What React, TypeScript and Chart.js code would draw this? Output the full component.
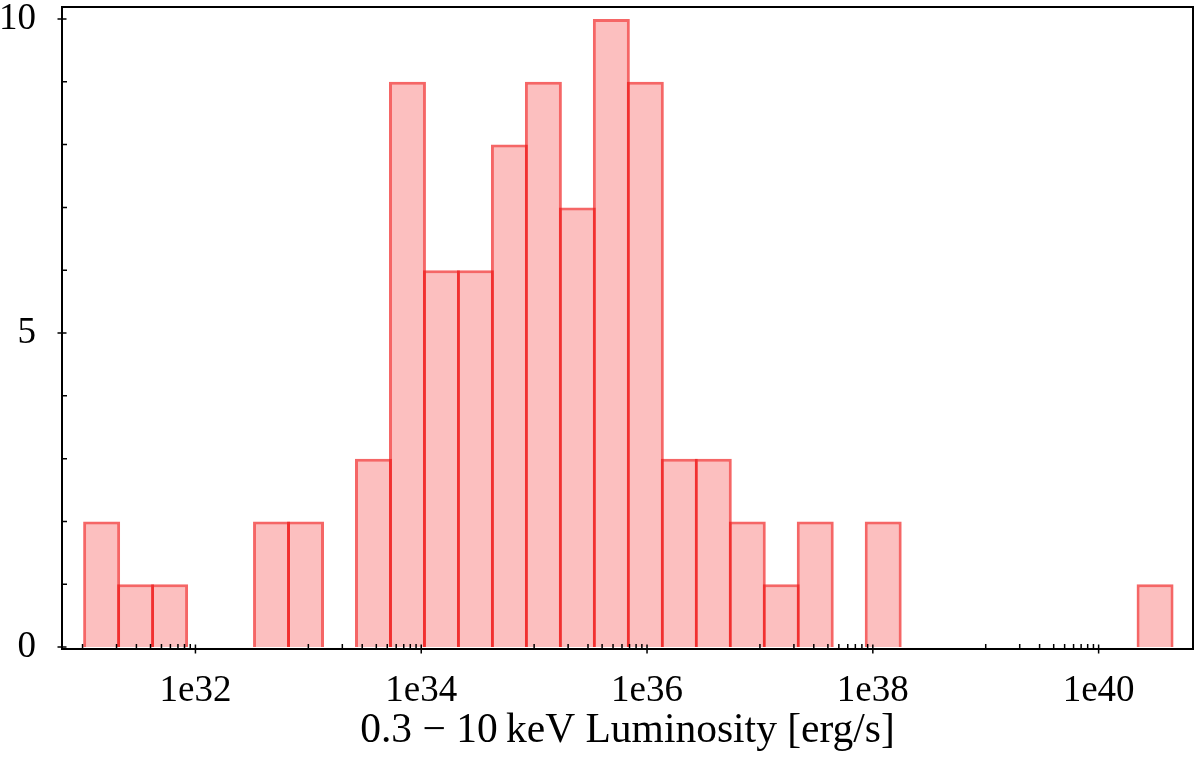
import { useEffect, useRef } from "react";
import { Chart, registerables } from "chart.js";

Chart.register(...registerables);

// log10 of bin centres (luminosity, erg/s)
const binCentersLog = [
  31.169, 31.470, 31.771, 32.072, 32.373, 32.674, 32.975, 33.276,
  33.577, 33.878, 34.179, 34.480, 34.781, 35.082, 35.383, 35.684,
  35.985, 36.286, 36.587, 36.888, 37.189, 37.490, 37.791, 38.092,
  38.393, 38.694, 38.995, 39.296, 39.597, 39.898, 40.199, 40.500,
];
const counts = [
  2, 1, 1, 0, 0, 2, 2, 0,
  3, 9, 6, 6, 8, 9, 7, 10,
  9, 3, 3, 2, 1, 2, 0, 2,
  0, 0, 0, 0, 0, 0, 0, 1,
];

const xMinLog = 30.818;
const xMaxLog = 40.836;
const xMajorExponents = [32, 34, 36, 38, 40];
const xMajorLabels = ["1e32", "1e34", "1e36", "1e38", "1e40"];
const xMinorExponents = [31, 33, 35, 37, 39];
const xMinorSubs = [1, 2, 3, 4, 5, 6, 7, 8, 9];

const yMin = -0.03;
const yMax = 10.19;
const yMajorTicks = [0, 5, 10];
const yMajorLabels = ["0", "5", "10"];
const yMinorTicks = [1, 2, 3, 4, 6, 7, 8, 9];

const xLabel = "0.3 \u2212 10\u2009keV Luminosity [erg/s]";

const FONT = "'Liberation Serif', 'DejaVu Serif', serif";

const axisDecor = {
  id: "axisDecor",
  afterDraw(chart: any) {
    const { ctx, chartArea: a, scales } = chart;
    const x = scales.x;
    const y = scales.y;
    ctx.save();
    ctx.strokeStyle = "#000";
    ctx.lineWidth = 1.5;
    ctx.beginPath();
    for (const t of x.ticks) {
      const px = x.getPixelForValue(t.value);
      ctx.moveTo(px, a.bottom - 4.5);
      ctx.lineTo(px, a.bottom + 4.5);
    }
    for (const e of xMinorExponents) {
      for (const k of xMinorSubs) {
        const px = x.getPixelForValue(k * Math.pow(10, e));
        if (px < a.left || px > a.right) continue;
        ctx.moveTo(px, a.bottom - 5);
        ctx.lineTo(px, a.bottom);
      }
    }
    for (const t of y.ticks) {
      const py = y.getPixelForValue(t.value);
      if (t.isMajor) {
        ctx.moveTo(a.left - 4.5, py);
        ctx.lineTo(a.left + 4.5, py);
      } else {
        ctx.moveTo(a.left, py);
        ctx.lineTo(a.left + 5, py);
      }
    }
    ctx.stroke();
    ctx.lineWidth = 2;
    ctx.strokeRect(a.left, a.top, a.right - a.left, a.bottom - a.top);
    ctx.restore();
  },
};

export default function App() {
  const canvasRef = useRef<HTMLCanvasElement | null>(null);

  useEffect(() => {
    document.body.style.margin = "0";
    const canvas = canvasRef.current;
    if (!canvas) return;

    const points = binCentersLog
      .map((c, i) => ({ x: Math.pow(10, c), y: counts[i] }))
      .filter((p) => p.y > 0);

    const chart = new Chart(canvas, {
      type: "bar",
      data: {
        datasets: [
          {
            data: points as any,
            backgroundColor: "rgba(250,128,128,0.5)",
            borderColor: "rgba(240,20,20,0.65)",
            borderWidth: 3,
            borderSkipped: "start",
            barPercentage: 1.088,
            categoryPercentage: 1,
          },
        ],
      },
      options: {
        animation: false,
        responsive: true,
        maintainAspectRatio: false,
        layout: { padding: { top: 7, right: 7, left: 0, bottom: 0 } },
        plugins: {
          legend: { display: false },
          tooltip: { enabled: false },
        },
        scales: {
          x: {
            type: "logarithmic",
            offset: false,
            min: Math.pow(10, xMinLog),
            max: Math.pow(10, xMaxLog),
            grid: { display: false },
            border: { display: false },
            afterBuildTicks: (scale: any) => {
              scale.ticks = xMajorExponents.map((e) => ({ value: Math.pow(10, e) }));
            },
            afterFit: (scale: any) => {
              scale.height = 111;
              scale.paddingLeft = 0;
              scale.paddingRight = 0;
              scale.paddingTop = 0;
              scale.paddingBottom = 0;
            },
            ticks: {
              autoSkip: false,
              maxRotation: 0,
              minRotation: 0,
              padding: 12,
              color: "#000",
              font: { family: FONT, size: 37 },
              callback: (value: any) => {
                const e = Math.round(Math.log10(Number(value)));
                const idx = xMajorExponents.indexOf(e);
                return idx < 0 ? "" : xMajorLabels[idx];
              },
            },
            title: {
              display: true,
              text: xLabel,
              color: "#000",
              font: { family: FONT, size: 41.5 },
              padding: { top: 0, bottom: 4 },
            },
          },
          y: {
            type: "linear",
            min: yMin,
            max: yMax,
            grid: { display: false },
            border: { display: false },
            afterBuildTicks: (scale: any) => {
              const ticks: any[] = [];
              yMajorTicks.forEach((v) => ticks.push({ value: v, isMajor: true }));
              yMinorTicks.forEach((v) => ticks.push({ value: v, isMajor: false }));
              ticks.sort((p, q) => p.value - q.value);
              scale.ticks = ticks;
            },
            afterFit: (scale: any) => {
              scale.width = 62;
              scale.paddingLeft = 0;
              scale.paddingRight = 0;
              scale.paddingTop = 0;
              scale.paddingBottom = 0;
            },
            ticks: {
              autoSkip: false,
              padding: 18,
              color: "#000",
              font: { family: FONT, size: 37 },
              callback: (value: any) => {
                const idx = yMajorTicks.indexOf(Number(value));
                return idx < 0 ? "" : yMajorLabels[idx];
              },
            },
          },
        },
      },
      plugins: [axisDecor],
    });

    return () => chart.destroy();
  }, []);

  return (
    <div style={{ width: 1200, height: 760, position: "relative" }}>
      <canvas ref={canvasRef} />
    </div>
  );
}
